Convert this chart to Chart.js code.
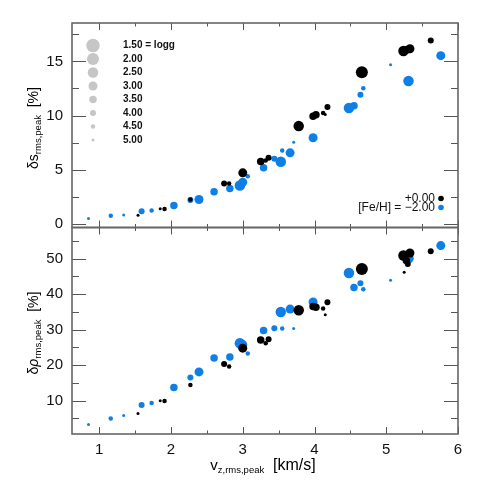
<!DOCTYPE html>
<html>
<head>
<meta charset="utf-8">
<title>ds and drho vs vz</title>
<script src="https://cdn.jsdelivr.net/npm/chart.js@4.4.1/dist/chart.umd.min.js"></script>
<style>
  html, body { margin: 0; padding: 0; background: #fff; }
  #wrap { position: relative; width: 480px; height: 480px; overflow: hidden; }
  #wrap canvas { position: absolute; left: 0; }
  #topChart { top: 0; }
  #bottomChart { top: 220px; }
</style>
</head>
<body>
<div id="wrap">
  <canvas id="topChart" width="480" height="240"></canvas>
  <canvas id="bottomChart" width="480" height="260"></canvas>
</div>
<script>
// [Fe/H] = +0.00 models (black)
const solarV    = [1.54, 1.85, 1.91, 2.27, 2.74, 2.81, 3.00, 3.25, 3.32, 3.36, 3.78, 3.98, 4.02, 4.12, 4.15, 4.18, 4.66, 5.24, 5.28, 5.33, 5.30, 5.25, 5.62];
const solarS    = [0.79, 1.38, 1.35, 2.24, 3.72, 3.72, 4.70, 5.75, 5.85, 6.09, 9.02, 9.93, 10.08, 10.24, 10.10, 10.79, 13.99, 15.96, 16.08, 16.17, 16.00, 15.90, 16.94];
const solarRho  = [6.4, 10.0, 9.9, 14.4, 20.3, 19.6, 24.8, 27.1, 26.2, 27.3, 35.5, 36.5, 36.3, 36.0, 34.2, 37.7, 47.1, 50.9, 49.5, 51.6, 48.5, 46.2, 52.1];
const solarLogg = [5.0, 5.0, 4.5, 4.5, 4.0, 4.5, 3.0, 3.5, 4.5, 4.0, 2.5, 3.5, 3.5, 4.5, 5.0, 4.0, 2.0, 2.5, 3.5, 3.0, 4.0, 5.0, 4.0];

// [Fe/H] = -2.00 models (blue)
const poorV    = [0.85, 1.16, 1.34, 1.59, 1.73, 2.04, 2.27, 2.39, 2.60, 2.82, 2.96, 3.00, 3.07, 3.29, 3.44, 3.53, 3.55, 3.66, 3.71, 3.98, 4.48, 4.55, 4.64, 4.68, 5.06, 5.31, 5.76];
const poorS    = [0.49, 0.74, 0.80, 1.16, 1.23, 1.69, 2.20, 2.24, 2.95, 3.26, 3.53, 3.84, 4.39, 5.17, 6.00, 5.72, 6.76, 6.55, 7.53, 7.95, 10.70, 10.91, 11.93, 12.51, 14.70, 13.19, 15.53];
const poorRho  = [3.3, 5.0, 5.8, 8.8, 9.35, 13.7, 16.5, 18.1, 22.0, 22.3, 26.2, 25.8, 23.3, 29.8, 30.4, 35.0, 30.3, 35.8, 30.3, 37.8, 46.0, 41.9, 43.1, 41.4, 43.9, 50.1, 53.7];
const poorLogg = [5.0, 4.5, 5.0, 4.0, 4.5, 3.5, 4.0, 3.0, 3.5, 3.5, 2.5, 3.0, 4.5, 3.5, 4.0, 2.5, 4.5, 3.0, 5.0, 3.0, 2.5, 3.5, 4.0, 4.5, 5.0, 2.5, 3.0];

// axes and legends
const xTicks = [1, 2, 3, 4, 5, 6];
const sTicks = [0, 5, 10, 15];
const rhoTicks = [10, 20, 30, 40, 50];
const loggLevels = [1.5, 2.0, 2.5, 3.0, 3.5, 4.0, 4.5, 5.0];
const fehLabels = ['+0.00', '[Fe/H] = \u22122.00'];

const BLACK = '#000000';
const BLUE = '#0f7fe8';
const GREY = '#c6c6c6';
const FONT = "'Liberation Sans', Arial, sans-serif";

// marker size grows as logg drops
function loggRadius(g) { return 1.5 * (6 - g); }

function zip(xs, ys) { return xs.map((x, i) => ({ x: x, y: ys[i] })); }

// half-step minor ticks between the labelled ones
function minorTicks(majors, min, max) {
  const step = majors[1] - majors[0];
  const out = [];
  for (let v = majors[0] - step / 2; v <= max; v += step) {
    if (v >= min) out.push(v);
  }
  return out;
}

// text with a subscript, centred on (cx, baseline cy)
function drawRich(ctx, parts, cx, cy, rotate) {
  ctx.save();
  ctx.translate(cx, cy);
  if (rotate) ctx.rotate(-Math.PI / 2);
  let total = 0;
  parts.forEach(p => { ctx.font = p.font; p.w = ctx.measureText(p.text).width; total += p.w; });
  let x = -total / 2;
  ctx.textBaseline = 'alphabetic';
  ctx.textAlign = 'left';
  ctx.fillStyle = '#000';
  parts.forEach(p => { ctx.font = p.font; ctx.fillText(p.text, x, p.dy || 0); x += p.w; });
  ctx.restore();
}

// frame with inward ticks on all four sides
const panelFrame = {
  id: 'panelFrame',
  afterDraw(chart, args, opts) {
    const ctx = chart.ctx;
    const a = chart.chartArea;
    const xs = chart.scales.x, ys = chart.scales.y;
    ctx.save();
    ctx.strokeStyle = '#555';
    ctx.lineWidth = 1;
    const xTick = (v, len) => {
      const px = Math.round(xs.getPixelForValue(v)) + 0.5;
      ctx.beginPath();
      ctx.moveTo(px, a.bottom); ctx.lineTo(px, a.bottom - len);
      ctx.moveTo(px, a.top); ctx.lineTo(px, a.top + len);
      ctx.stroke();
    };
    const yTick = (v, len) => {
      const py = Math.round(ys.getPixelForValue(v)) + 0.5;
      ctx.beginPath();
      ctx.moveTo(a.left, py); ctx.lineTo(a.left + len, py);
      ctx.moveTo(a.right, py); ctx.lineTo(a.right - len, py);
      ctx.stroke();
    };
    xTicks.forEach(v => xTick(v, 7));
    minorTicks(xTicks, xs.min, xs.max).forEach(v => xTick(v, 3.5));
    opts.yMajor.forEach(v => yTick(v, 14));
    minorTicks(opts.yMajor, ys.min, ys.max).forEach(v => yTick(v, 7));
    ctx.strokeStyle = '#666';
    ctx.lineWidth = 1.6;
    ctx.strokeRect(a.left, a.top, a.right - a.left, a.bottom - a.top);
    ctx.restore();
  }
};

// logg size key, [Fe/H] colour key, and the axis titles
const panelText = {
  id: 'panelText',
  afterDraw(chart, args, opts) {
    const ctx = chart.ctx;
    const a = chart.chartArea;
    ctx.save();
    if (opts.keys) {
      ctx.font = 'bold 10px ' + FONT;
      ctx.textBaseline = 'middle';
      loggLevels.forEach((g, i) => {
        const y = a.top + 22.5 + i * 13.5;
        ctx.fillStyle = GREY;
        ctx.beginPath();
        ctx.arc(a.left + 21, y, loggRadius(g), 0, Math.PI * 2);
        ctx.fill();
        ctx.fillStyle = '#111';
        ctx.textAlign = 'left';
        ctx.fillText(g.toFixed(2) + (i === 0 ? ' = logg' : ''), a.left + 51, y);
      });
      ctx.font = '12px ' + FONT;
      [BLACK, BLUE].forEach((c, i) => {
        const y = a.bottom - 29 + i * 9;
        ctx.fillStyle = '#111';
        ctx.textAlign = 'right';
        ctx.fillText(fehLabels[i], a.right - 23, y);
        ctx.fillStyle = c;
        ctx.beginPath();
        ctx.arc(a.right - 17, y, 2.8, 0, Math.PI * 2);
        ctx.fill();
      });
    }
    drawRich(ctx, opts.yTitle, 38, opts.yTitleY, true);
    if (opts.xTitle) drawRich(ctx, opts.xTitle, 263, 250, false);
    ctx.restore();
  }
};

function buildDatasets(solarY, poorY) {
  return [
    {
      label: '+0.00',
      data: zip(solarV, solarY),
      backgroundColor: BLACK,
      borderWidth: 0,
      pointRadius: solarLogg.map(loggRadius)
    },
    {
      label: '-2.00',
      data: zip(poorV, poorY),
      backgroundColor: BLUE,
      borderWidth: 0,
      pointRadius: poorLogg.map(loggRadius)
    }
  ];
}

const tickFont = { family: FONT, size: 15 };

function yScale(min, max, ticks) {
  return {
    min: min,
    max: max,
    afterFit: s => { s.width = 72; s.paddingTop = 0; s.paddingBottom = 0; },
    afterBuildTicks: s => { s.ticks = ticks.map(v => ({ value: v })); },
    grid: { display: false, drawTicks: false },
    border: { display: false },
    ticks: { font: tickFont, color: '#111', padding: 9 }
  };
}

const bigTitle = '14px ' + FONT;
const subTitle = '9.5px ' + FONT;

new Chart(document.getElementById('topChart'), {
  type: 'scatter',
  data: { datasets: buildDatasets(solarS, poorS) },
  options: {
    responsive: false,
    animation: false,
    layout: { padding: { left: 0, right: 22, top: 23, bottom: 12.5 } },
    scales: {
      x: { type: 'linear', min: 0.62, max: 6.0, display: false },
      y: yScale(-0.35, 18.55, sTicks)
    },
    plugins: {
      legend: { display: false },
      tooltip: { enabled: false },
      panelFrame: { yMajor: sTicks },
      panelText: {
        keys: true,
        yTitleY: 128,
        yTitle: [
          { text: '\u03b4s', font: bigTitle },
          { text: 'rms,peak', font: subTitle, dy: 3 },
          { text: '  [%]', font: bigTitle }
        ]
      }
    }
  },
  plugins: [panelFrame, panelText]
});

new Chart(document.getElementById('bottomChart'), {
  type: 'scatter',
  data: { datasets: buildDatasets(solarRho, poorRho) },
  options: {
    responsive: false,
    animation: false,
    layout: { padding: { left: 0, right: 22, top: 7.5, bottom: 0 } },
    scales: {
      x: {
        type: 'linear',
        min: 0.62,
        max: 6.0,
        afterFit: s => { s.height = 46; s.paddingLeft = 0; s.paddingRight = 0; },
        afterBuildTicks: s => { s.ticks = xTicks.map(v => ({ value: v })); },
        grid: { display: false, drawTicks: false },
        border: { display: false },
        ticks: { font: tickFont, color: '#111', padding: 7, maxRotation: 0 }
      },
      y: yScale(0.6, 58.8, rhoTicks)
    },
    plugins: {
      legend: { display: false },
      tooltip: { enabled: false },
      panelFrame: { yMajor: rhoTicks },
      panelText: {
        keys: false,
        yTitleY: 113,
        yTitle: [
          { text: '\u03b4', font: bigTitle },
          { text: '\u03c1', font: 'italic ' + bigTitle },
          { text: 'rms,peak', font: subTitle, dy: 3 },
          { text: '  [%]', font: bigTitle }
        ],
        xTitle: [
          { text: 'v', font: '15px ' + FONT },
          { text: 'z,rms,peak', font: subTitle, dy: 3 },
          { text: '  [km/s]', font: '16px ' + FONT }
        ]
      }
    }
  },
  plugins: [panelFrame, panelText]
});
</script>
</body>
</html>
